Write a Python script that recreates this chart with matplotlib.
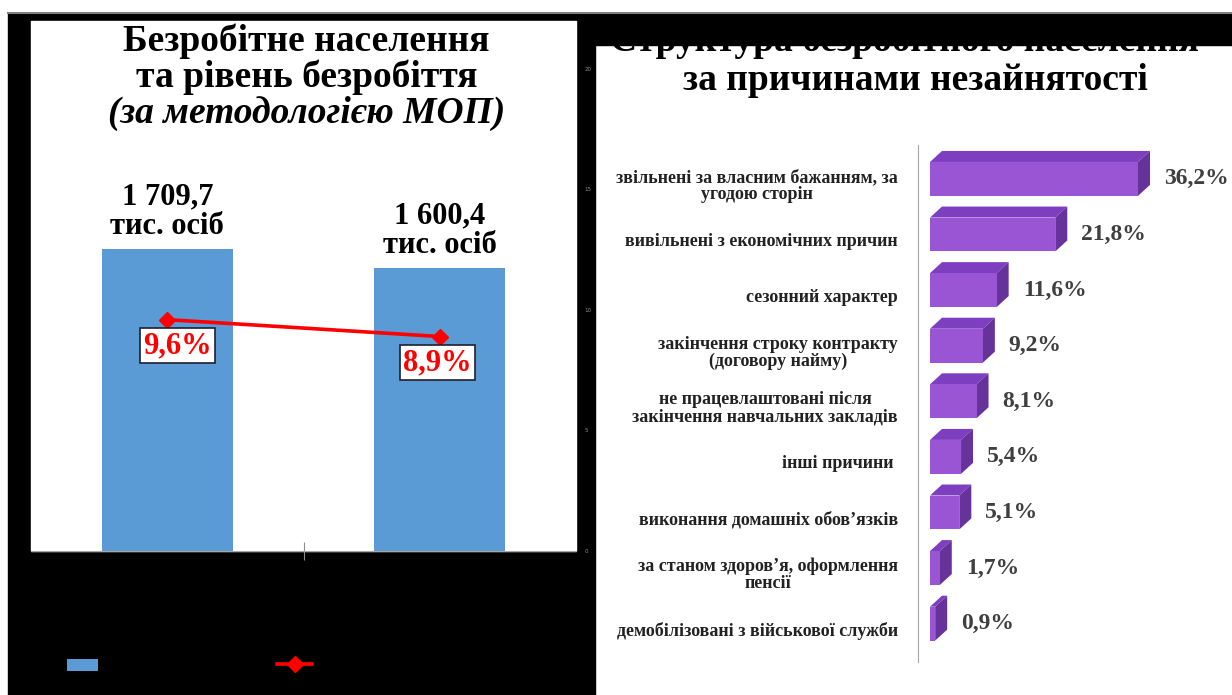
import matplotlib.pyplot as plt
from matplotlib.patches import Rectangle, Polygon
from matplotlib.lines import Line2D

# Left chart: unemployed population (thousand) and unemployment rate (%)
periods = [0, 1]
unemployed = [1709.7, 1600.4]
rate = [9.6, 8.9]
rate_ticks = [0, 5, 10, 15, 20]

# Right chart: structure of unemployed by reason
reasons = [
    "звільнені за власним бажанням, за\nугодою сторін",
    "вивільнені з економічних причин",
    "сезонний характер",
    "закінчення строку контракту\n(договору найму)",
    "не працевлаштовані після\nзакінчення навчальних закладів",
    "інші причини ",
    "виконання домашніх обов’язків",
    "за станом здоров’я, оформлення\nпенсії",
    "демобілізовані з військової служби",
]
shares = [36.2, 21.8, 11.6, 9.2, 8.1, 5.4, 5.1, 1.7, 0.9]

W, H = 1232, 695
SERIF = "Liberation Serif"


def fx(px):
    return px / W


def fy(py):
    return 1 - py / H


def ukr(v, thousands=False):
    if thousands:
        return f"{v:,.1f}".replace(",", " ").replace(".", ",")
    return f"{v:.1f}".replace(".", ",")


fig = plt.figure(figsize=(12.32, 6.95), dpi=100, facecolor="white")

# slide backgrounds
fig.patches.append(Rectangle((fx(8), fy(695)), fx(595 - 8), (695 - 13) / H,
                             transform=fig.transFigure, color="black", zorder=-10))
fig.patches.append(Rectangle((fx(31), fy(551)), fx(576 - 31), (551 - 21) / H,
                             transform=fig.transFigure, color="white", zorder=-9))
fig.patches.append(Rectangle((fx(595), fy(45)), fx(W - 595), (45 - 13) / H,
                             transform=fig.transFigure, color="black", zorder=5))
fig.lines.append(Line2D([fx(8), 1], [fy(13), fy(13)], transform=fig.transFigure,
                        color="#7f7f7f", lw=1.5, zorder=6))

# ---------------- left chart ----------------
ax = fig.add_axes([fx(31), fy(551), fx(545), 482 / H])
ax.set_facecolor("none")
bars = ax.bar(periods, unemployed, width=0.48, color="#5B9BD5", zorder=2)
ax.set_xlim(-0.5, 1.5)
ax.set_ylim(0, 2729)
for s in ["top", "left", "right"]:
    ax.spines[s].set_visible(False)
ax.spines["bottom"].set_color("#a6a6a6")
ax.set_yticks([])
ax.set_xticks([0.5])
ax.set_xticklabels([""])
ax.tick_params(axis="x", direction="inout", length=13, color="#8c8c8c")

for x, v in zip(periods, unemployed):
    ax.annotate(ukr(v, True) + "\nтис. осіб", xy=(x, v), xytext=(0, 8),
                textcoords="offset pixels", ha="center", va="bottom",
                fontsize=22, fontweight="bold", family=SERIF, linespacing=1.05)

ax2 = ax.twinx()
ax2.set_facecolor("none")
line, = ax2.plot(periods, rate, color="red", lw=2.6, marker="D", markersize=8, zorder=3)
ax2.set_ylim(0, 20)
ax2.set_yticks(rate_ticks)
ax2.tick_params(axis="y", length=0, pad=6, labelsize=4, labelcolor="#8c8c8c")
for s in ax2.spines.values():
    s.set_visible(False)

for x, v, dx in zip(periods, rate, [10, -2]):
    ax2.annotate(ukr(v) + "%", xy=(x, v), xytext=(dx, -26), textcoords="offset pixels",
                 ha="center", va="center", color="red", fontsize=22, fontweight="bold",
                 family=SERIF,
                 bbox=dict(boxstyle="square,pad=0.1", fc="white", ec="#1f1f2f", lw=1.2))

# title of left chart
fig.text(fx(306), fy(41), "Безробітне населення", ha="center", va="center",
         fontsize=27, fontweight="bold", family=SERIF)
fig.text(fx(307), fy(77), "та рівень безробіття", ha="center", va="center",
         fontsize=27, fontweight="bold", family=SERIF)
fig.text(fx(307), fy(113), "(за методологією МОП)", ha="center", va="center",
         fontsize=27, fontweight="bold", style="italic", family=SERIF)

# legend (labels are black on black, as in the slide)
leg1 = fig.legend([bars], ["Безробітне населення"], loc="center left",
                  bbox_to_anchor=(fx(67), fy(665)), frameon=False, borderpad=0,
                  borderaxespad=0, handlelength=2.8, handleheight=1.17,
                  labelcolor="black", fontsize=8)
fig.add_artist(leg1)
fig.legend([line], ["Рівень безробіття"], loc="center left",
           bbox_to_anchor=(fx(277), fy(665)), frameon=False, borderpad=0,
           borderaxespad=0, handlelength=3.15, labelcolor="black", fontsize=8)

# ---------------- right chart ----------------
rax = fig.add_axes([fx(918), fy(662), fx(W - 918), 517 / H])
rax.set_facecolor("none")
rows = list(range(len(shares)))
xmin, xmax = -2.09, 52.56
ymin, ymax = 8.69, -0.61
rax.set_xlim(xmin, xmax)
rax.set_ylim(ymin, ymax)
bar_h = 0.61
dx = 12 * (xmax - xmin) / (W - 918)
dy = 11 * (ymin - ymax) / 517

front, top, side = "#9A55D4", "#7D3EC0", "#66339a"
for r, v in zip(rows, shares):
    y0 = r - bar_h / 2
    y1 = r + bar_h / 2
    rax.add_patch(Polygon([(0, y0), (v, y0), (v + dx, y0 - dy), (dx, y0 - dy)],
                          closed=True, color=top, lw=0, zorder=2))
    rax.add_patch(Polygon([(v, y0), (v + dx, y0 - dy), (v + dx, y1 - dy), (v, y1)],
                          closed=True, color=side, lw=0, zorder=2))
rax.barh(rows, shares, height=bar_h, color=front, zorder=3)

for r, v in zip(rows, shares):
    rax.annotate(ukr(v) + "%", xy=(v, r), xytext=(26, 0), textcoords="offset pixels",
                 ha="left", va="center", fontsize=17, fontweight="bold",
                 family=SERIF, color="#3f3f3f")
    rax.annotate(reasons[r], xy=(0, r), xycoords=("axes fraction", "data"),
                 xytext=(-20, -7), textcoords="offset pixels", ha="right", va="center",
                 multialignment="center", fontsize=13, fontweight="bold",
                 family=SERIF, color="#222222", linespacing=1.0)

for s in ["top", "right", "bottom"]:
    rax.spines[s].set_visible(False)
rax.spines["left"].set_color("#a6a6a6")
rax.set_xticks([])
rax.set_yticks([])

# title of right chart (first line partly hidden under the black band)
fig.text(fx(905), fy(51), "Структура безробітного населення", ha="center",
         va="baseline", fontsize=27, fontweight="bold", family=SERIF, zorder=4)
fig.text(fx(915), fy(90), "за причинами незайнятості", ha="center",
         va="baseline", fontsize=27, fontweight="bold", family=SERIF, zorder=4)

fig.savefig("out.png", dpi=100, facecolor="white")
